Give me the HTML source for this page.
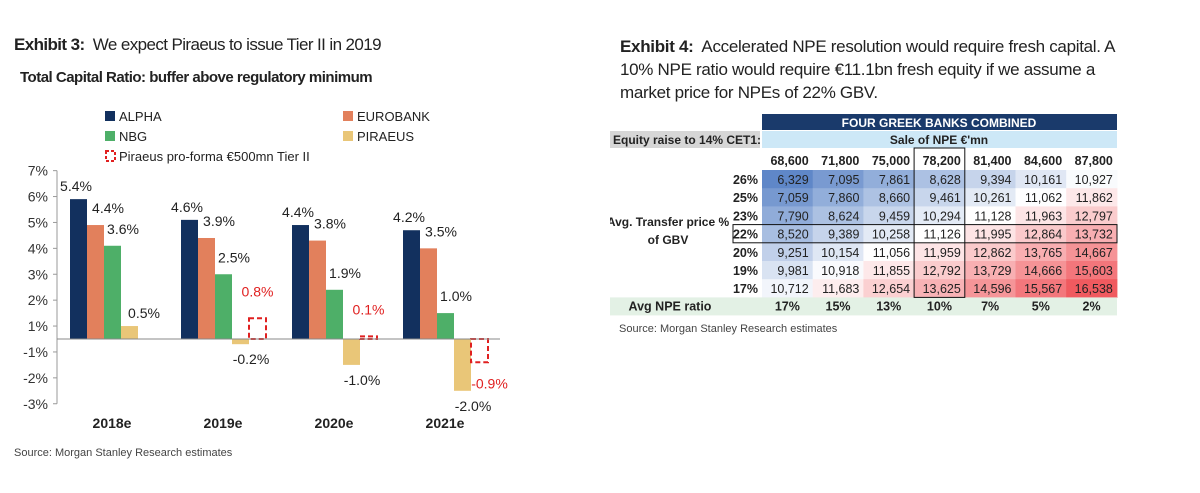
<!DOCTYPE html>
<html><head><meta charset="utf-8"><style>
body{margin:0;width:1200px;height:493px;background:#fff;font-family:"Liberation Sans",sans-serif;overflow:hidden;position:relative;color:#222}
.abs{position:absolute;white-space:nowrap}
</style></head><body>
<div class="abs" style="left:14px;top:35px;font-size:17px;letter-spacing:-0.6px"><b>Exhibit 3:</b>&nbsp; We expect Piraeus to issue Tier II in 2019</div>
<div class="abs" style="left:20px;top:69px;font-size:15px;font-weight:bold;letter-spacing:-0.5px">Total Capital Ratio: buffer above regulatory minimum</div>
<svg class="abs" id="chart" style="left:0;top:100px" width="600" height="340"></svg>
<div class="abs" style="left:14px;top:447px;font-size:11px;color:#444">Source: Morgan Stanley Research estimates</div>

<div class="abs" style="left:620px;top:35px;font-size:17px;line-height:23px;letter-spacing:-0.3px"><b>Exhibit 4:</b>&nbsp; Accelerated NPE resolution would require fresh capital. A<br>10% NPE ratio would require €11.1bn fresh equity if we assume a<br>market price for NPEs of 22% GBV.</div>
<svg class="abs" id="tbl" style="left:610px;top:110px" width="520" height="210"></svg>
<div class="abs" style="left:619px;top:323px;font-size:11px;color:#444">Source: Morgan Stanley Research estimates</div>

<script>
const years=["2018e","2019e","2020e","2021e"];
const alpha=[5.4,4.6,4.4,4.2];
const eurobank=[4.4,3.9,3.8,3.5];
const nbg=[3.6,2.5,1.9,1.0];
const piraeus=[0.5,-0.2,-1.0,-2.0];
const proforma=[null,0.8,0.1,-0.9];
const tickLabels=[7,6,5,4,3,2,1,-1,-2,-3];

const NS="http://www.w3.org/2000/svg";
const svg=document.getElementById('chart');
function el(t,a,p){const e=document.createElementNS(NS,t);for(const k in a)e.setAttribute(k,a[k]);(p||svg).appendChild(e);return e;}
const zeroY=239, unit=25.9;
function y(v){return zeroY-v*unit;}
function gx(i){return 70+i*111;}
const bw=17;
const leg=[["ALPHA","#12305e",105,16],["EUROBANK","#e2805c",343,16],["NBG","#4eaf68",105,36],["PIRAEUS","#e9c678",343,36]];
leg.forEach(l=>{
 const r=el('rect',{x:l[2],y:l[3]-5,width:10,height:10,fill:l[1]});
 
 const t=el('text',{x:l[2]+14,y:l[3]+5,'font-size':13,fill:'#222'});t.textContent=l[0];
 
});
const lr=el('rect',{x:106,y:51,width:9,height:10,fill:'none',stroke:'#e02020','stroke-width':2,'stroke-dasharray':'3,2'});

const lt=el('text',{x:119,y:61,'font-size':13,fill:'#222'});lt.textContent="Piraeus pro-forma €500mn Tier II";

const ax=el('line',{x1:57,y1:y(6.5),x2:57,y2:y(-2.5),stroke:'#999'});

tickLabels.forEach(v=>{
 const yy=y(v>0?v-0.5:v+0.5);
 el('line',{x1:53,y1:yy,x2:57,y2:yy,stroke:'#999'});
 const t=el('text',{x:48,y:yy+5,'font-size':14,'text-anchor':'end',fill:'#333'});t.textContent=v+'%';
 
});
const series=[[alpha,"#12305e"],[eurobank,"#e2805c"],[nbg,"#4eaf68"],[piraeus,"#e9c678"]];
years.forEach((yr,i)=>{
 series.forEach((s,j)=>{
  const v=s[0][i];const x=gx(i)+j*bw;
  const r=el('rect',{x:x,y:Math.min(y(v),zeroY),width:bw,height:Math.abs(v)*unit,fill:s[1]});
  
  let lx=x+bw/2, ly=v>=0?y(v)-8:y(v)+20;
  if(j===0) lx=x+6;
  if(j===1) {lx=x+bw+4; ly=y(v)-12;}
  if(j===2) {lx=x+bw+2; ly=y(v)-12;}
  if(j===3&&v>=0){lx=x+bw+6;ly=y(v)-8;}
  if(j===3&&v<0){lx=x+bw+2;}
  const t=el('text',{x:lx,y:ly,'font-size':14,'text-anchor':'middle',fill:'#222'});t.textContent=v.toFixed(1)+'%';
  
 });
 const p=proforma[i];
 if(p!==null){
  const x=gx(i)+4*bw;
  const r=el('rect',{x:x,y:Math.min(y(p),zeroY),width:bw,height:Math.max(Math.abs(p)*unit,2),fill:'none',stroke:'#e02020','stroke-width':2,'stroke-dasharray':'5,3'});
  
  const ly=p>=0?y(p)-22:y(p)+26;
  const t=el('text',{x:x+bw/2+(p<0?10:0),y:ly,'font-size':14,'text-anchor':'middle',fill:'#e02020'});t.textContent=p.toFixed(1)+'%';
  
 }
 const t=el('text',{x:gx(i)+42,y:328,'font-size':14,'font-weight':'bold','text-anchor':'middle',fill:'#222'});t.textContent=yr;
 
});
const zl=el('line',{x1:57,y1:zeroY,x2:500,y2:zeroY,stroke:'#888'});


const npeSales=["68,600","71,800","75,000","78,200","81,400","84,600","87,800"];
const transferPct=["26%","25%","23%","22%","20%","19%","17%"];
const npeRatio=["17%","15%","13%","10%","7%","5%","2%"];
const equityRow0=[6329,7095,7861,8628,9394,10161,10927];
const equityRow1=[7059,7860,8660,9461,10261,11062,11862];
const equityRow2=[7790,8624,9459,10294,11128,11963,12797];
const equityRow3=[8520,9389,10258,11126,11995,12864,13732];
const equityRow4=[9251,10154,11056,11959,12862,13765,14667];
const equityRow5=[9981,10918,11855,12792,13729,14666,15603];
const equityRow6=[10712,11683,12654,13625,14596,15567,16538];
const grid=[equityRow0,equityRow1,equityRow2,equityRow3,equityRow4,equityRow5,equityRow6];
const T=document.getElementById('tbl');
function te(t,a){return el(t,a,T);}
const c0=152,cw=50.7,rh=18.2,r0=60;
function tx(s,x,yy,o){const t=te('text',Object.assign({x:x,y:yy,'font-size':12.5,fill:'#222'},o||{}));t.textContent=s;return t;}
let e=te('rect',{x:c0,y:4,width:355,height:16,fill:'#1a3a6b'});
e=tx("FOUR GREEK BANKS COMBINED",c0+177,17,{'font-size':12,'font-weight':'bold',fill:'#fff','text-anchor':'middle'});
e=te('rect',{x:0,y:21,width:150,height:17,fill:'#d6d6d6'});
e=tx("Equity raise to 14% CET1:",3,34,{'font-size':12,'font-weight':'bold'});
e=te('rect',{x:c0,y:21,width:355,height:17,fill:'#cde8f7'});
e=tx("Sale of NPE €'mn",c0+177,34,{'font-size':12,'font-weight':'bold','text-anchor':'middle'});
function col(v){const mid=11100;let t;
 if(v<mid){t=Math.min(1,(mid-v)/(mid-6329));return `rgb(${Math.round(255-t*160)},${Math.round(255-t*120)},${Math.round(255-t*55)})`;}
 t=Math.min(1,(v-mid)/(16538-mid));return `rgb(${Math.round(255-t*15)},${Math.round(255-t*165)},${Math.round(255-t*160)})`;}
npeSales.forEach((s,j)=>{e=tx(s,c0+(j+1)*cw-4,55,{'font-weight':'bold','text-anchor':'end'});});
grid.forEach((row,i)=>{
 const yy=r0+i*rh;
 e=tx(transferPct[i],148,yy+14,{'font-weight':'bold','text-anchor':'end'});
 row.forEach((v,j)=>{
  e=te('rect',{x:c0+j*cw,y:yy,width:cw+0.5,height:rh+0.5,fill:col(v)});
  e=tx(v.toLocaleString('en-US'),c0+(j+1)*cw-4,yy+14,{'text-anchor':'end'});
 });
});
e=tx("Avg. Transfer price %",58,116,{'font-size':12,'font-weight':'bold','text-anchor':'middle'});
e=tx("of GBV",58,134,{'font-size':12,'font-weight':'bold','text-anchor':'middle'});
const ny=r0+7*rh;
e=te('rect',{x:0,y:ny,width:507,height:18,fill:'#e3f1e5'});
e=tx("Avg NPE ratio",60,ny+13,{'font-weight':'bold','text-anchor':'middle'});
npeRatio.forEach((s,j)=>{e=tx(s,c0+j*cw+cw/2,ny+13,{'font-weight':'bold','text-anchor':'middle'});});
e=te('rect',{x:123,y:r0+3*rh,width:384,height:rh,fill:'none',stroke:'#111','stroke-width':1});
e=te('rect',{x:c0+3*cw,y:38,width:cw,height:ny-38,fill:'none',stroke:'#111','stroke-width':1});
</script>
</body></html>
